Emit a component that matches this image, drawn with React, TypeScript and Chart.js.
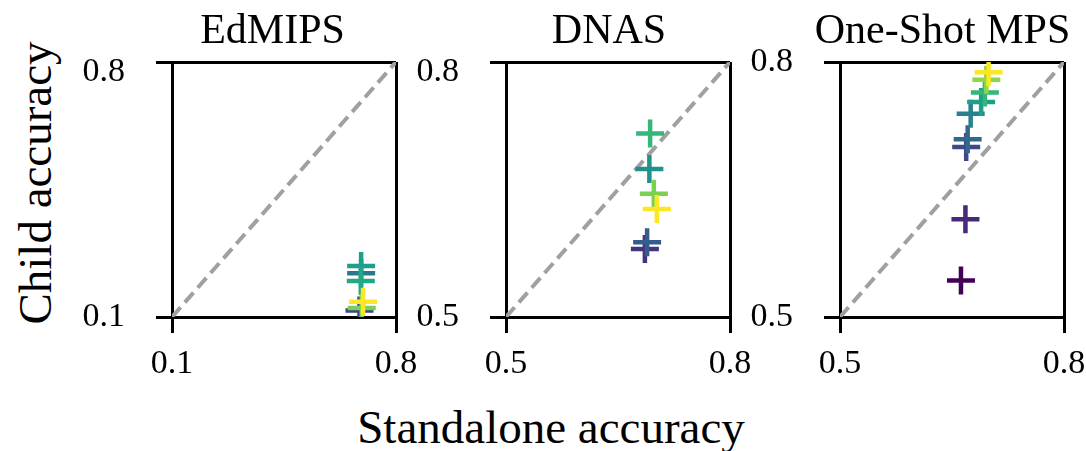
import React, { useEffect, useRef } from "react";
import { Chart, registerables } from "chart.js";

Chart.register(...registerables);

// ---- data ----
const panelTitles = ["EdMIPS", "DNAS", "One-Shot MPS"];
const xAxisLabel = "Standalone accuracy";
const yAxisLabel = "Child accuracy";

// axis ranges (min, max) and tick labels per panel
const edmipsRange = [0.1, 0.8];
const dnasRange = [0.5, 0.8];
const oneShotRange = [0.5, 0.8];
const edmipsTickLabels = ["0.1", "0.8"];
const dnasTickLabels = ["0.5", "0.8"];
const oneShotTickLabels = ["0.5", "0.8"];

// EdMIPS
const edmipsStandalone = [0.686, 0.691, 0.691, 0.690, 0.693, 0.697];
const edmipsChild = [0.118, 0.220, 0.240, 0.199, 0.125, 0.142];
const edmipsColors = ["#414487", "#2a788e", "#1f9e89", "#22a884", "#7ad151", "#fde725"];

// DNAS
const dnasStandalone = [0.686, 0.689, 0.692, 0.693, 0.698, 0.702];
const dnasChild = [0.580, 0.588, 0.674, 0.716, 0.645, 0.627];
const dnasColors = ["#46327e", "#365c8d", "#21918c", "#35b779", "#7ad151", "#fde725"];

// One-Shot MPS
const oneShotStandalone = [0.662, 0.668, 0.669, 0.671, 0.675, 0.689, 0.694, 0.696, 0.699];
const oneShotChild = [0.543, 0.615, 0.700, 0.709, 0.739, 0.753, 0.764, 0.779, 0.788];
const oneShotColors = ["#440154", "#482878", "#3e4989", "#31688e", "#26828e", "#1f9e89", "#35b779", "#90d743", "#fde725"];

const FONT = "'Liberation Serif', 'Times New Roman', serif";

const panels = [
  { title: panelTitles[0], range: edmipsRange, ticks: edmipsTickLabels, xs: edmipsStandalone, ys: edmipsChild, colors: edmipsColors },
  { title: panelTitles[1], range: dnasRange, ticks: dnasTickLabels, xs: dnasStandalone, ys: dnasChild, colors: dnasColors },
  { title: panelTitles[2], range: oneShotRange, ticks: oneShotTickLabels, xs: oneShotStandalone, ys: oneShotChild, colors: oneShotColors },
];

// ---- layout ----
const AREA_LEFTS = [172, 506, 840];
const AREA_W = 224;
const AREA_TOP = 62;
const AREA_BOTTOM = 317;
const Y_AXIS_W = 100;
const PAD_RIGHT = 40;
const CANVAS_H = 400;
const TITLE_CENTERS = [272.5, 609, 942.5];
const TICK_SIZE = 34;
// downward shift (px) of the top y tick label in each panel
const TOP_LABEL_SHIFT = [10, 10, 0];

function buildChart(canvas: HTMLCanvasElement, p: typeof panels[number], topShift: number) {
  const tickValues = p.range.slice();
  const points = p.xs.map((x, i) => ({ x, y: p.ys[i] }));
  const diag = [
    { x: p.range[0], y: p.range[0] },
    { x: p.range[1], y: p.range[1] },
  ];
  const setTicks = (scale: any) => {
    scale.ticks = tickValues.map((v) => ({ value: v }));
  };
  const tickFont = { family: FONT, size: TICK_SIZE };
  const shifted = topShift > 0;
  const yTickFont = shifted
    ? { family: FONT, size: TICK_SIZE, lineHeight: (2 * topShift) / TICK_SIZE }
    : { family: FONT, size: TICK_SIZE };
  const yLabels = p.ticks.map((t, i) => (shifted && i === p.ticks.length - 1 ? ["", t] : t));
  return new Chart(canvas, {
    type: "scatter",
    data: {
      datasets: [
        {
          data: points,
          pointStyle: "cross",
          pointRadius: 14,
          pointHoverRadius: 14,
          pointBorderWidth: 4.5,
          pointHoverBorderWidth: 4.5,
          pointBorderColor: p.colors,
          pointBackgroundColor: p.colors,
          showLine: false,
          clip: 0,
          order: 1,
        } as any,
        {
          data: diag,
          showLine: true,
          pointRadius: 0,
          borderColor: "#a0a0a0",
          borderWidth: 4,
          borderDash: [13, 6.5],
          order: 2,
          clip: 0,
        } as any,
      ],
    },
    options: {
      animation: false,
      responsive: false,
      maintainAspectRatio: false,
      events: [],
      layout: { padding: { left: 0, right: PAD_RIGHT, top: AREA_TOP, bottom: 0 } },
      plugins: {
        legend: { display: false },
        tooltip: { enabled: false },
        title: { display: false },
      },
      scales: {
        x: {
          type: "linear",
          min: p.range[0],
          max: p.range[1],
          afterBuildTicks: setTicks,
          afterFit: (s: any) => {
            s.height = CANVAS_H - AREA_BOTTOM;
          },
          grid: { color: "#000", lineWidth: 3, tickLength: 16, drawOnChartArea: true, drawTicks: true },
          border: { display: false },
          ticks: {
            padding: 11,
            color: "#000",
            font: tickFont,
            maxRotation: 0,
            autoSkip: false,
            callback: (_v: any, i: number) => p.ticks[i],
          },
        },
        y: {
          type: "linear",
          min: p.range[0],
          max: p.range[1],
          afterBuildTicks: setTicks,
          afterFit: (s: any) => {
            s.width = Y_AXIS_W;
          },
          grid: { color: "#000", lineWidth: 3, tickLength: 16, drawOnChartArea: true, drawTicks: true },
          border: { display: false },
          ticks: {
            padding: 31,
            color: "#000",
            font: yTickFont,
            autoSkip: false,
            callback: (_v: any, i: number) => yLabels[i],
          },
        },
      },
    } as any,
  });
}

export default function App() {
  const refs = [useRef<HTMLCanvasElement>(null), useRef<HTMLCanvasElement>(null), useRef<HTMLCanvasElement>(null)];

  useEffect(() => {
    const charts = panels.map((p, i) => buildChart(refs[i].current as HTMLCanvasElement, p, TOP_LABEL_SHIFT[i]));
    return () => charts.forEach((c) => c.destroy());
  }, []);

  const canvasW = Y_AXIS_W + AREA_W + PAD_RIGHT;

  return (
    <div style={{ position: "fixed", left: 0, top: 0, width: 1086, height: 451, background: "#fff", overflow: "hidden" }}>
      {panels.map((p, i) => (
        <canvas
          key={"c" + i}
          ref={refs[i]}
          width={canvasW}
          height={CANVAS_H}
          style={{ position: "absolute", left: AREA_LEFTS[i] - Y_AXIS_W, top: 0, width: canvasW, height: CANVAS_H }}
        />
      ))}
      {panels.map((p, i) => (
        <div
          key={"t" + i}
          style={{
            position: "absolute",
            left: TITLE_CENTERS[i],
            top: 8,
            transform: "translateX(-50%)",
            fontFamily: FONT,
            fontSize: 42,
            lineHeight: 1,
            whiteSpace: "nowrap",
            color: "#000",
          }}
        >
          {p.title}
        </div>
      ))}
      <div
        style={{
          position: "absolute",
          left: 551,
          top: 404,
          transform: "translateX(-50%)",
          fontFamily: FONT,
          fontSize: 47,
          lineHeight: 1,
          whiteSpace: "nowrap",
          color: "#000",
        }}
      >
        {xAxisLabel}
      </div>
      <div
        style={{
          position: "absolute",
          left: 34.5,
          top: 182.5,
          transform: "translate(-50%, -50%) rotate(-90deg)",
          fontFamily: FONT,
          fontSize: 47,
          lineHeight: 1,
          whiteSpace: "nowrap",
          color: "#000",
        }}
      >
        {yAxisLabel}
      </div>
    </div>
  );
}
